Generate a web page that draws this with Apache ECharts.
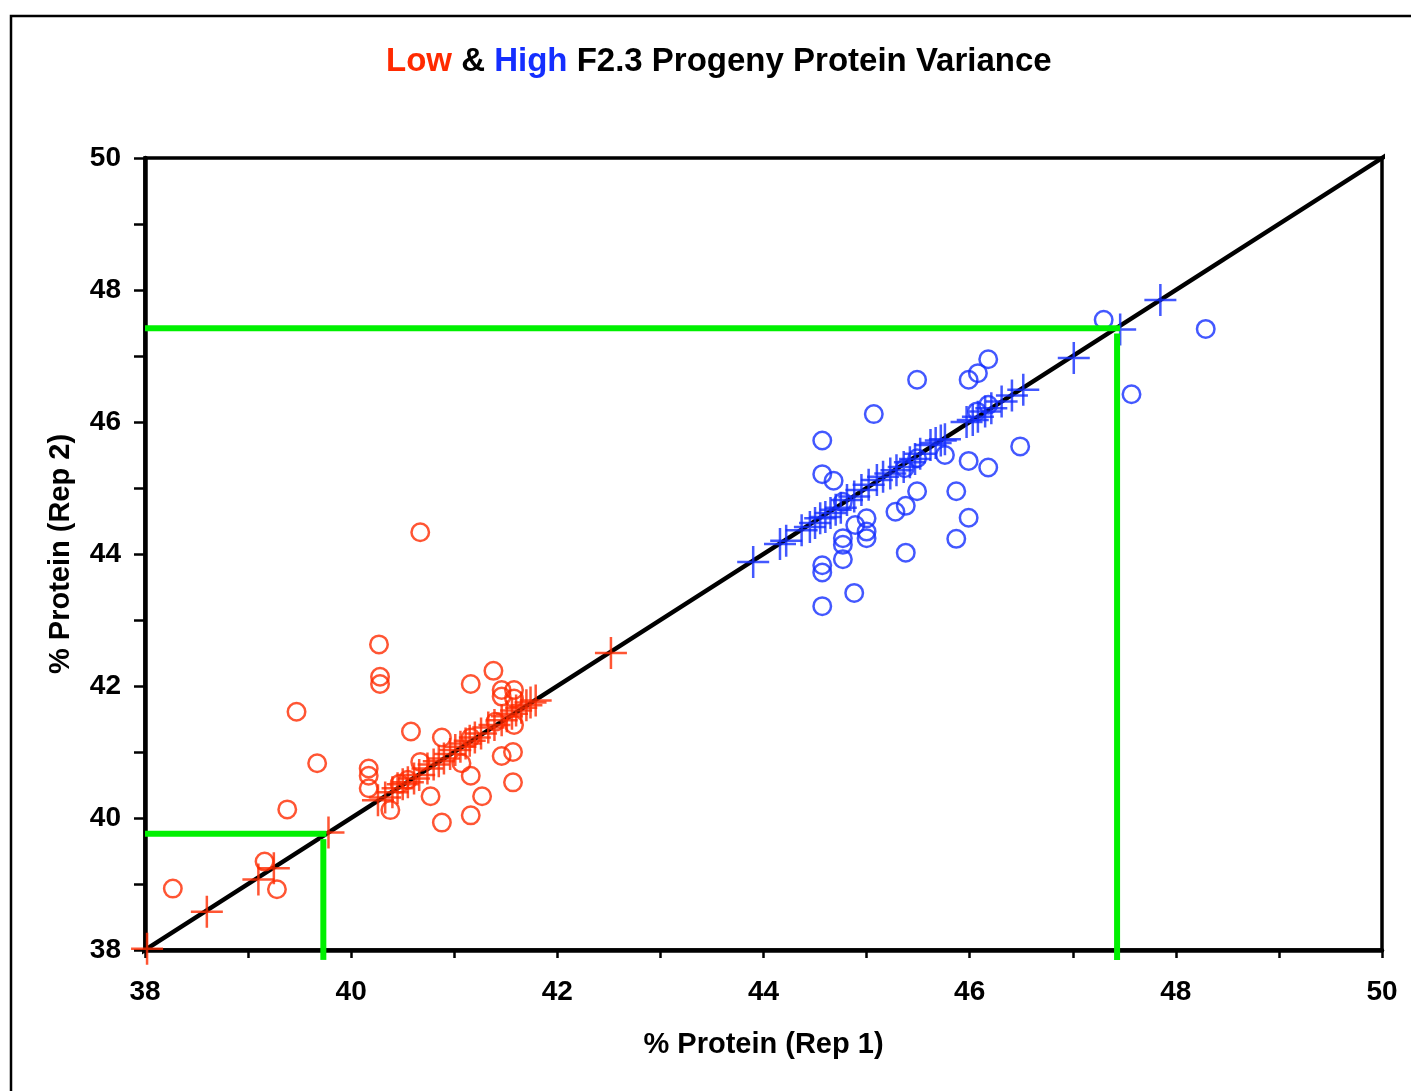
<!DOCTYPE html>
<html>
<head>
<meta charset="utf-8">
<title>Low &amp; High F2.3 Progeny Protein Variance</title>
<script src="https://cdn.jsdelivr.net/npm/echarts@6/dist/echarts.min.js"></script>
<style>
  html, body { margin: 0; padding: 0; background: #ffffff; }
  #chart { width: 1411px; height: 1091px; }
</style>
</head>
<body>
<div id="chart"></div>
<script>
// ---- Data: % protein, replicate 1 (x) vs replicate 2 (y) ----
const axisMin = 38;
const axisMax = 50;
const tickStep = 2;

// Low-protein progeny: individual plants
const lowPlants = [
  [40.27, 42.63], [40.28, 42.14], [40.28, 42.03], [39.47, 41.61], [41.38, 42.23],
  [41.16, 42.03], [41.46, 41.94], [41.58, 41.94], [41.46, 41.84], [41.58, 41.81],
  [41.58, 41.41], [41.40, 41.46], [40.58, 41.31], [40.88, 41.22], [41.16, 41.22],
  [40.67, 40.85], [39.67, 40.83], [40.17, 40.75], [40.17, 40.64], [40.17, 40.45],
  [41.07, 40.83], [41.16, 40.64], [41.46, 40.94], [41.57, 41.00], [41.57, 40.54],
  [40.77, 40.33], [41.27, 40.33], [40.38, 40.12], [40.88, 39.93], [41.16, 40.04],
  [39.38, 40.13], [39.16, 39.34], [39.28, 38.92], [38.27, 38.93], [40.67, 44.33],
  [40.47, 40.52], [40.55, 40.58]
];

// Low-protein progeny: line means
const lowLines = [
  [38.02, 38.02], [38.60, 38.58], [39.10, 39.07], [39.25, 39.24], [39.78, 39.78],
  [40.26, 40.27], [40.33, 40.31], [40.40, 40.39], [40.45, 40.45], [40.50, 40.51],
  [40.55, 40.54], [40.61, 40.60], [40.66, 40.65], [40.74, 40.75], [40.80, 40.81],
  [40.85, 40.86], [40.90, 40.90], [40.96, 40.97], [41.01, 41.03], [41.06, 41.08],
  [41.11, 41.13], [41.15, 41.17], [41.20, 41.22], [41.26, 41.28], [41.33, 41.37],
  [41.39, 41.41], [41.46, 41.48], [41.51, 41.54], [41.56, 41.58], [41.60, 41.63],
  [41.65, 41.67], [41.70, 41.71], [41.74, 41.75], [41.79, 41.78], [42.52, 42.50]
];

// High-protein progeny: individual plants
const highPlants = [
  [47.30, 47.55], [48.29, 47.41], [47.57, 46.42], [46.18, 46.95], [46.08, 46.74],
  [45.99, 46.64], [45.49, 46.64], [45.07, 46.12], [44.57, 45.72], [46.49, 45.63],
  [44.57, 45.21], [44.68, 45.11], [45.99, 45.41], [46.18, 45.31], [45.76, 45.50],
  [45.49, 44.95], [45.87, 44.95], [45.99, 44.55], [45.87, 44.23], [45.38, 44.73],
  [45.28, 44.64], [45.38, 44.02], [45.00, 44.54], [45.00, 44.34], [45.00, 44.24],
  [44.89, 44.44], [44.77, 44.24], [44.77, 44.14], [44.77, 43.92], [44.57, 43.83],
  [44.57, 43.72], [44.88, 43.41], [44.57, 43.21], [46.07, 46.16], [46.18, 46.26],
  [45.49, 45.45], [45.37, 45.30], [44.77, 44.79]
];

// High-protein progeny: line means
const highLines = [
  [43.90, 43.88], [44.16, 44.15], [44.22, 44.20], [44.37, 44.36], [44.45, 44.41],
  [44.50, 44.47], [44.55, 44.54], [44.60, 44.56], [44.65, 44.62], [44.70, 44.67],
  [44.75, 44.70], [44.81, 44.82], [44.88, 44.87], [44.95, 44.97], [45.02, 45.05],
  [45.10, 45.12], [45.16, 45.17], [45.23, 45.22], [45.29, 45.27], [45.36, 45.32],
  [45.42, 45.39], [45.47, 45.44], [45.52, 45.52], [45.62, 45.65], [45.67, 45.68],
  [45.72, 45.72], [45.76, 45.74], [45.97, 46.00], [46.03, 46.03], [46.08, 46.08],
  [46.15, 46.16], [46.21, 46.21], [46.31, 46.31], [46.41, 46.40], [46.52, 46.49],
  [47.01, 46.97], [47.46, 47.40], [47.85, 47.85]
];

// 1:1 reference line, running slightly past both ends of the plot
const identityLine = [[37.85, 37.85], [50.23, 50.23]];

// Selection cut-offs [rep1, rep2] for the low and high groups
const lowCut = [39.73, 39.76];
const highCut = [47.43, 47.42];
const belowAxis = 37.85;

// ---- Styling ----
const RED = '#ff2a00';
const BLUE = '#142eff';
const GREEN = '#00f000';
const FONT = '"Liberation Sans", Arial, Helvetica, sans-serif';

// plus-sign marker built from two filled bars (2.5px thick at size 32)
const PLUS = 'path://M14.75,0h2.5v32h-2.5z M0,14.75h32v2.5h-32z';

function cutLines(cut) {
  // horizontal from the y-axis to the cut, vertical from the cut down past the x-axis
  return [
    [[axisMin, cut[1]], [cut[0] + 0.03, cut[1]]],
    [[cut[0], cut[1] - 0.08], [cut[0], belowAxis]]
  ];
}

const chart = echarts.init(document.getElementById('chart'), null, { renderer: 'canvas' });

const greenSeries = [...cutLines(lowCut), ...cutLines(highCut)].map((seg, i) => ({
  name: 'cut' + i,
  type: 'line',
  data: seg,
  symbol: 'none',
  clip: false,
  silent: true,
  z: 4,
  lineStyle: { color: GREEN, width: 6 }
}));

const titleFont = { fontFamily: FONT, fontWeight: 'bold', fontSize: 33 };

const option = {
  backgroundColor: '#ffffff',
  animation: false,
  title: {
    left: 381,
    top: 40,
    text: '{r|Low }{k|& }{b|High }{k|F2.3 Progeny Protein Variance}',
    textStyle: {
      rich: {
        r: Object.assign({ color: RED }, titleFont),
        b: Object.assign({ color: BLUE }, titleFont),
        k: Object.assign({ color: '#000' }, titleFont)
      }
    }
  },
  graphic: [{
    type: 'rect',
    shape: { x: 11, y: 16, width: 1460, height: 1150 },
    style: { fill: 'none', stroke: '#000', lineWidth: 2.5 },
    silent: true,
    z: -1
  }],
  grid: {
    left: 145, right: 29, top: 158, bottom: 141,
    show: true,
    borderColor: '#000',
    borderWidth: 3.5,
    backgroundColor: 'transparent'
  },
  xAxis: {
    type: 'value',
    min: axisMin, max: axisMax, interval: tickStep,
    name: '% Protein (Rep 1)',
    nameLocation: 'middle',
    nameGap: 80,
    nameTextStyle: { fontFamily: FONT, fontWeight: 'bold', fontSize: 29, color: '#000' },
    axisLine: { show: true, onZero: false, lineStyle: { color: '#000', width: 4.5 } },
    axisTick: { show: true, inside: false, length: 8, lineStyle: { color: '#000', width: 2.5 } },
    minorTick: { show: true, splitNumber: 2, length: 8, lineStyle: { color: '#000', width: 2.5 } },
    splitLine: { show: false },
    axisLabel: { margin: 28, fontFamily: FONT, fontWeight: 'bold', fontSize: 28, color: '#000' }
  },
  yAxis: {
    type: 'value',
    min: axisMin, max: axisMax, interval: tickStep,
    name: '% Protein (Rep 2)',
    nameLocation: 'middle',
    nameGap: 70,
    nameRotate: 90,
    nameTextStyle: { fontFamily: FONT, fontWeight: 'bold', fontSize: 29, color: '#000' },
    axisLine: { show: true, onZero: false, lineStyle: { color: '#000', width: 4.5 } },
    axisTick: { show: true, inside: false, length: 11, lineStyle: { color: '#000', width: 2.5 } },
    minorTick: { show: true, splitNumber: 2, length: 11, lineStyle: { color: '#000', width: 2.5 } },
    splitLine: { show: false },
    axisLabel: { margin: 24, fontFamily: FONT, fontWeight: 'bold', fontSize: 28, color: '#000' }
  },
  series: [
    {
      name: '1:1',
      type: 'line',
      data: identityLine,
      symbol: 'none',
      clip: false,
      silent: true,
      z: 1,
      lineStyle: { color: '#000', width: 4.5 }
    },
    {
      name: 'Low plants',
      type: 'scatter',
      data: lowPlants,
      symbol: 'circle',
      symbolSize: 17.5,
      z: 2,
      itemStyle: { color: 'rgba(0,0,0,0)', borderColor: RED, borderWidth: 2.5 }
    },
    {
      name: 'Low lines',
      type: 'scatter',
      data: lowLines,
      symbol: PLUS,
      symbolSize: 32,
      z: 3,
      itemStyle: { color: RED }
    },
    {
      name: 'High plants',
      type: 'scatter',
      data: highPlants,
      symbol: 'circle',
      symbolSize: 17.5,
      z: 2,
      itemStyle: { color: 'rgba(0,0,0,0)', borderColor: BLUE, borderWidth: 2.5 }
    },
    {
      name: 'High lines',
      type: 'scatter',
      data: highLines,
      symbol: PLUS,
      symbolSize: 32,
      z: 3,
      itemStyle: { color: BLUE }
    },
    ...greenSeries
  ]
};

chart.setOption(option);
</script>
</body>
</html>
